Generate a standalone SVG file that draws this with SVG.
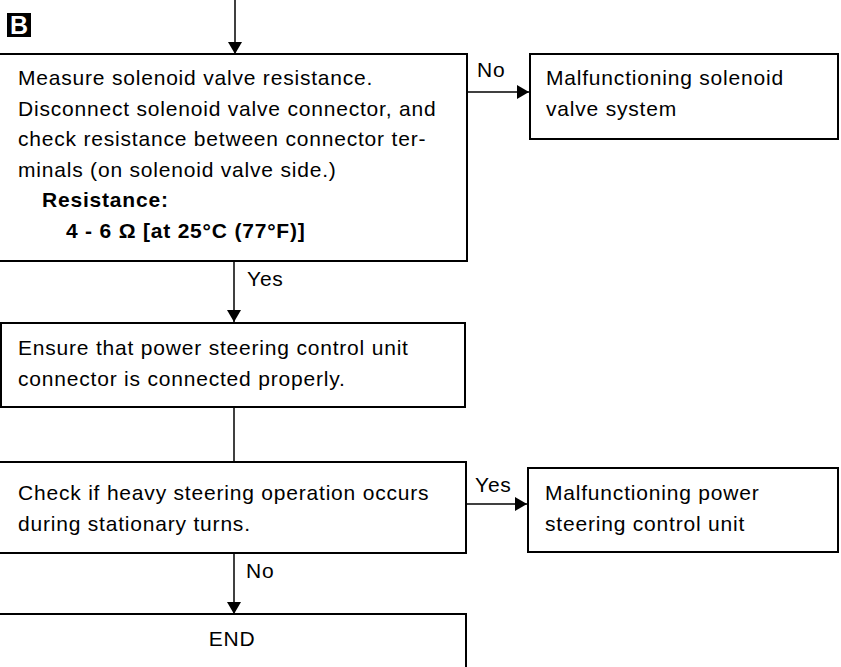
<svg xmlns="http://www.w3.org/2000/svg" width="841" height="667" viewBox="0 0 841 667">
<defs>
<marker id="ah" markerWidth="12" markerHeight="14" refX="12" refY="7" orient="auto" markerUnits="userSpaceOnUse">
<path d="M0,0 L12,7 L0,14 Z" fill="#000"/>
</marker>
<style>
.box{fill:#fff;stroke:#000;stroke-width:2}
.t{font-family:"Liberation Sans",Arial,sans-serif;font-size:21px;letter-spacing:0.8px;fill:#000}
.b{font-weight:bold}
.c{stroke:#000;stroke-width:1.5;fill:none}
</style>
</defs>
<rect width="841" height="667" fill="#fff"/>
<g id="badge">
<rect x="7" y="13" width="24" height="24" fill="#000"/>
<text x="19" y="34" text-anchor="middle" font-family="Liberation Sans,Arial,sans-serif" font-size="25" font-weight="bold" fill="#fff">B</text>
</g>
<g id="connectors">
<line class="c" x1="235" y1="0" x2="235" y2="54" marker-end="url(#ah)"/>
<line class="c" x1="467" y1="92" x2="529" y2="92" marker-end="url(#ah)"/>
<line class="c" x1="234" y1="261" x2="234" y2="322" marker-end="url(#ah)"/>
<line class="c" x1="234" y1="407" x2="234" y2="462"/>
<line class="c" x1="466" y1="504" x2="527" y2="504" marker-end="url(#ah)"/>
<line class="c" x1="234" y1="553" x2="234" y2="614" marker-end="url(#ah)"/>
<text class="t" x="477" y="77">No</text>
<text class="t" x="247" y="286">Yes</text>
<text class="t" x="475" y="492">Yes</text>
<text class="t" x="246" y="578">No</text>
</g>
<g id="n1">
<rect class="box" x="-2" y="54" width="469" height="207"/>
<text class="t" x="18" y="85">Measure solenoid valve resistance.</text>
<text class="t" x="18" y="116">Disconnect solenoid valve connector, and</text>
<text class="t" x="18" y="146">check resistance between connector ter-</text>
<text class="t" x="18" y="177">minals (on solenoid valve side.)</text>
<text class="t b" x="42" y="207">Resistance:</text>
<text class="t b" x="66" y="238">4 - 6 Ω [at 25°C (77°F)]</text>
</g>
<g id="n2">
<rect class="box" x="530" y="54" width="308" height="85"/>
<text class="t" x="546" y="85">Malfunctioning solenoid</text>
<text class="t" x="546" y="116">valve system</text>
</g>
<g id="n3">
<rect class="box" x="1" y="323" width="464" height="84"/>
<text class="t" x="18" y="355">Ensure that power steering control unit</text>
<text class="t" x="18" y="386">connector is connected properly.</text>
</g>
<g id="n4">
<rect class="box" x="-2" y="462" width="468" height="91"/>
<text class="t" x="18" y="500">Check if heavy steering operation occurs</text>
<text class="t" x="18" y="531">during stationary turns.</text>
</g>
<g id="n5">
<rect class="box" x="528" y="468" width="310" height="84"/>
<text class="t" x="545" y="500">Malfunctioning power</text>
<text class="t" x="545" y="531">steering control unit</text>
</g>
<g id="n6">
<rect class="box" x="-2" y="614" width="468" height="60"/>
<text class="t" x="232" y="646" text-anchor="middle">END</text>
</g>
</svg>
